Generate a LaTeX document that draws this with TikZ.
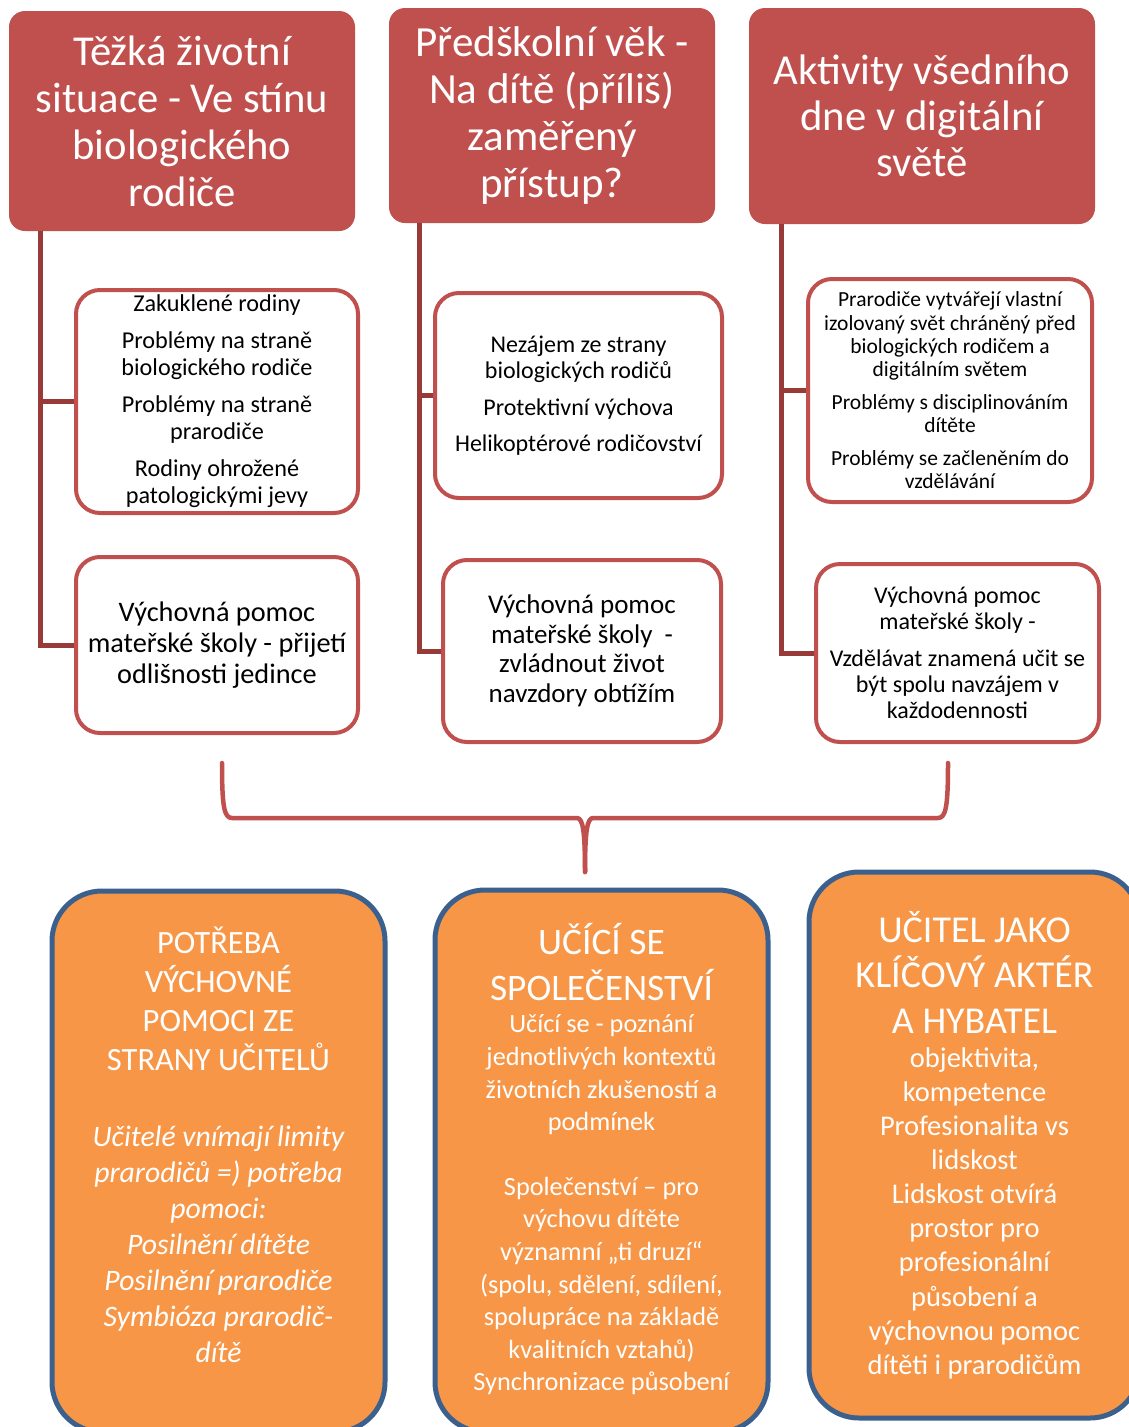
\documentclass[tikz,border=0pt]{standalone}
\usepackage{fontspec}
\setmainfont{Carlito}
\usetikzlibrary{positioning}

\definecolor{headred}{RGB}{192,80,77}
\definecolor{trunkred}{RGB}{152,58,56}
\definecolor{boxorange}{RGB}{247,150,70}
\definecolor{boxblue}{RGB}{59,96,142}

% use the font's own word spaces
\newcommand{\natspace}{\spaceskip=0pt\xspaceskip=0pt\relax}

\tikzset{every picture/.style={line width=0.75pt}}
\tikzset{
	headbox/.style={fill=headred, rounded corners=16pt, text=white, align=center, inner sep=0pt},
	itembox/.style={fill=white, draw=headred, line width=4pt, rounded corners=24pt, align=center, inner sep=0pt},
	goalbox/.style={fill=boxorange, draw=boxblue, line width=5pt, rounded corners=50pt, text=white, align=flush center, text width=320pt, inner sep=0pt},
	trunk/.style={draw=trunkred, line width=5pt},
	brace/.style={draw=headred, line width=4.5pt, line cap=round, line join=round},
}

\begin{document}
\begin{tikzpicture}[x=1pt,y=1pt,yscale=-1,xscale=1]
		\useasboundingbox (0,0) rectangle (1128,1427);

		%Shape: Rounded Rect [top row]
		\node (top1) [headbox, minimum width=346pt, minimum height=220pt, font=\fontsize{42.6}{47}\selectfont] at (182,121) {Těžká životní\\situace - Ve stínu\\biologického\\rodiče};
		\node (top2) [headbox, minimum width=326pt, minimum height=215pt, font=\fontsize{43}{47}\selectfont] at (552,115.5) {Předškolní věk -\\Na dítě (příliš)\\zaměřený\\přístup?};
		\node (top3) [headbox, minimum width=346pt, minimum height=216pt, font=\fontsize{42.7}{46}\selectfont] at (922,116) {Aktivity všedního\\dne v digitální\\světě};

		%Shape: Rounded Rect [middle row]
		\node (c1a) [itembox, minimum width=282pt, minimum height=223pt, font=\fontsize{24.2}{27}\selectfont] at (217,401.5) {Zakuklené rodiny\\[10pt]Problémy na straně\\biologického rodiče\\[10pt]Problémy na straně\\prarodiče\\[10pt]Rodiny ohrožené\\patologickými jevy};
		\node (c1b) [itembox, minimum width=282pt, minimum height=176pt, font=\fontsize{28.3}{31}\selectfont] at (217,645) {Výchovná pomoc\\mateřské školy - přijetí\\odlišnosti jedince};
		\node (c2a) [itembox, minimum width=287pt, minimum height=205pt, font=\fontsize{24}{26}\selectfont] at (578.5,395.5) {Nezájem ze strany\\biologických rodičů\\[11pt]Protektivní výchova\\[10pt]Helikoptérové rodičovství};
		\node (c2b) [itembox, minimum width=278pt, minimum height=182pt, font=\fontsize{27}{29.5}\selectfont] at (582,651) {Výchovná pomoc\\mateřské školy~ -\\zvládnout život\\navzdory obtížím};
		\node (c3a) [itembox, minimum width=284pt, minimum height=223pt, font=\fontsize{21.5}{23.3}\selectfont] at (950,390.5) {Prarodiče vytvářejí vlastní\\izolovaný svět chráněný před\\biologických rodičem a\\digitálním světem\\[9pt]Problémy s disciplinováním\\dítěte\\[10pt]Problémy se začleněním do\\vzdělávání};
		\node (c3b) [itembox, minimum width=283pt, minimum height=178pt, font=\fontsize{24}{26}\selectfont] at (957.5,653) {Výchovná pomoc\\mateřské školy -\\[11pt]Vzdělávat znamená učit se\\být spolu navzájem v\\každodennosti};

		%Straight Lines
		\draw [trunk] ([xshift=32pt]top1.south west) |- (c1a.west);
		\draw [trunk] ([xshift=32pt]top1.south west) |- (c1b.west);
		\draw [trunk] ([xshift=31pt]top2.south west) |- (c2a.west);
		\draw [trunk] ([xshift=31pt]top2.south west) |- (c2b.west);
		\draw [trunk] ([xshift=33pt]top3.south west) |- (c3a.west);
		\draw [trunk] ([xshift=33pt]top3.south west) |- (c3b.west);

		%Curve Lines
		\draw [brace] (222,763) .. controls (222,806) and (224,818) .. (232,818) -- (577,818) .. controls (583,818) and (585,832) .. (585,872);
		\draw [brace] (948,763) .. controls (948,806) and (946,818) .. (938,818) -- (593,818) .. controls (587,818) and (585,832) .. (585,872);

		%Shape: Rounded Rect [bottom row]
		\node (b1) [goalbox, minimum width=333pt, minimum height=541pt] at (218.5,1161.5) {\natspace{\fontsize{32.5}{39}\selectfont POTŘEBA\\VÝCHOVNÉ\\POMOCI ZE\\STRANY UČITELŮ\par}\vspace{40pt}{\fontsize{29.7}{36}\selectfont\itshape Učitelé vnímají limity\\prarodičů =) potřeba\\pomoci:\\Posilnění dítěte\\Posilnění prarodiče\\Symbióza prarodič-\\dítě\par}\vspace{33pt}};
		\node (b2) [goalbox, minimum width=333pt, minimum height=542pt] at (601.5,1161) {\natspace{\fontsize{37.4}{46}\selectfont UČÍCÍ SE\\SPOLEČENSTVÍ\par}{\fontsize{26.3}{32.6}\selectfont Učící se - poznání\\jednotlivých kontextů\\životních zkušeností a\\podmínek\par}\vspace{32pt}{\fontsize{26.3}{32.6}\selectfont Společenství – pro\\výchovu dítěte\\významní „ti druzí“\\(spolu, sdělení, sdílení,\\spolupráce na základě\\kvalitních vztahů)\\Synchronizace působení\par}\vspace{4pt}};
		\node (b3) [goalbox, minimum width=331pt, minimum height=546pt] at (974.5,1145) {\natspace{\fontsize{38}{45.5}\selectfont UČITEL JAKO\\KLÍČOVÝ AKTÉR\\A HYBATEL\par}{\fontsize{28.5}{34.1}\selectfont objektivita,\\kompetence\\Profesionalita vs\\lidskost\\Lidskost otvírá\\prostor pro\\profesionální\\působení a\\výchovnou pomoc\\dítěti i prarodičům\par}};
\end{tikzpicture}
\end{document}
